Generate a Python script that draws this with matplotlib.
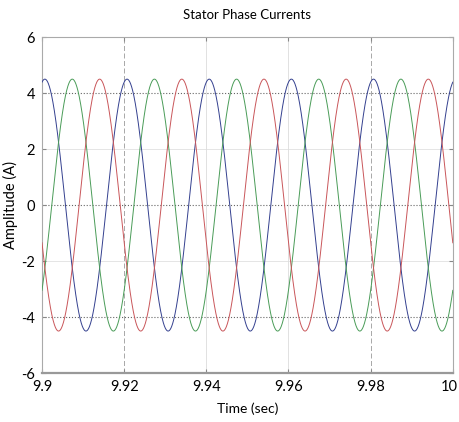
import numpy as np
import matplotlib
matplotlib.use("Agg")
import matplotlib.pyplot as plt
import matplotlib.transforms as mtransforms

# --- signal parameters ---
phase_names = ["Phase A", "Phase B", "Phase C"]
phase_colors = ["#34408f", "#4a9c58", "#c9565a"]
amplitude = [4.5, 4.5, 4.5]          # A
freq = 50.0                          # Hz
phase_shift_deg = [0.0, -120.0, -240.0]
first_peak = 9.9007                  # s, first blue peak

t_start, t_end = 9.9, 10.0
xticks = [9.9, 9.92, 9.94, 9.96, 9.98, 10]
xticklabels = ["9.9", "9.92", "9.94", "9.96", "9.98", "10"]
yticks = [-6, -4, -2, 0, 2, 4, 6]

plt.rcParams['font.family'] = ['Lato', 'DejaVu Sans']

fig = plt.figure(figsize=(4.59, 4.22), dpi=100)
ax = fig.add_axes([0.0915, 0.116, 0.895, 0.796])

t = np.linspace(t_start, t_end, 2000)
for name, col, amp, ph in zip(phase_names, phase_colors, amplitude, phase_shift_deg):
    i = amp * np.cos(2 * np.pi * freq * (t - first_peak) + np.deg2rad(ph))
    ax.plot(t, i, color=col, lw=0.7, label=name, zorder=3)

ax.set_xlim(t_start, t_end)
ax.set_ylim(-6, 6)
ax.set_xticks(xticks)
ax.set_xticklabels(xticklabels, fontsize=10.5)
ax.set_yticks(yticks)
ax.set_yticklabels([str(v) for v in yticks], fontsize=10.5)
ax.tick_params(direction='in', top=True, right=True, length=3, color='#888888', pad=5)
# nudge the last label so it stays inside the figure
last = ax.get_xticklabels()[-1]
last.set_transform(last.get_transform() + mtransforms.ScaledTranslation(-4 / 100, 0, fig.dpi_scale_trans))

# grid lines: darker dotted at 0 and +-4, faint elsewhere
for yv in [-4, 0, 4]:
    ax.axhline(yv, color='#666666', ls=':', lw=0.8, zorder=1)
for yv in [-2, 2]:
    ax.axhline(yv, color='#e0e0e0', ls='-', lw=0.6, zorder=1)
for xv in [9.92, 9.98]:
    ax.axvline(xv, color='#9a9a9a', ls=(0, (6, 3)), lw=0.6, zorder=1)
for xv in [9.94, 9.96]:
    ax.axvline(xv, color='#dcdcdc', ls='-', lw=0.6, zorder=1)

for s in ax.spines.values():
    s.set_color('#aaaaaa')
    s.set_linewidth(0.8)
ax.spines['bottom'].set_linewidth(1.6)
ax.spines['bottom'].set_color('#999999')

ax.set_title("Stator Phase Currents", fontsize=9.5, pad=13)
ax.set_xlabel("Time (sec)", fontsize=10, labelpad=6)
ax.set_ylabel("Amplitude (A)", fontsize=10.5, labelpad=2)

fig.savefig("out.png", dpi=100)
